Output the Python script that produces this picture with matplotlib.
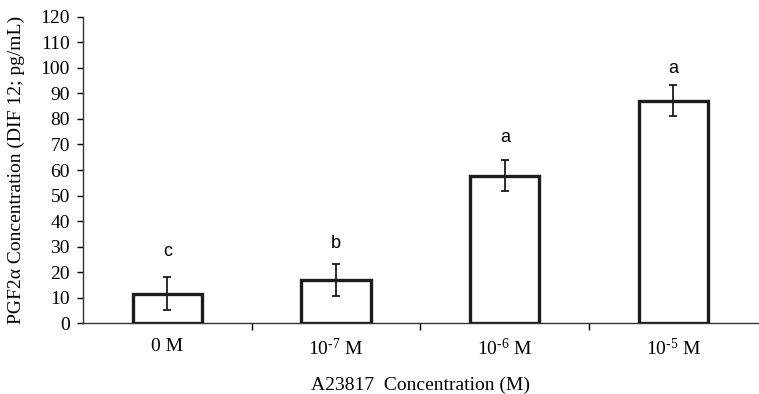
import numpy as np
import matplotlib
matplotlib.use('Agg')
import matplotlib.pyplot as plt

plt.rcParams['font.family'] = ['Liberation Serif', 'DejaVu Serif']
plt.rcParams['mathtext.fontset'] = 'custom'
plt.rcParams['mathtext.rm'] = 'Liberation Serif'
plt.rcParams['mathtext.it'] = 'Liberation Serif:italic'

# data
categories = ['0 M', r'10$^{\text{-7}}$ M', r'10$^{\text{-6}}$ M', r'10$^{\text{-5}}$ M']
means = [11.5, 16.8, 57.7, 87.1]
errs = [6.5, 6.2, 6.1, 6.1]
letters = ['c', 'b', 'a', 'a']
letter_y = [28.0, 31.0, 72.8, 99.6]

fig = plt.figure(figsize=(7.59, 3.94), dpi=100)
ax = fig.add_axes([0.1094, 0.180, 0.889, 0.777])

x = np.arange(len(categories))
ax.bar(x, means, width=0.41, color='white', edgecolor='#1c1c1c', linewidth=2.4, zorder=2)
ax.errorbar(x, means, yerr=errs, fmt='none', ecolor='#1c1c1c', elinewidth=1.3,
            capsize=3, capthick=1.3, zorder=3)

for xi, lab, ly in zip(x, letters, letter_y):
    ax.text(xi, ly, lab, ha='center', va='center', fontsize=13,
            family=['Liberation Sans', 'DejaVu Sans'])

ax.set_xlim(-0.5, 3.5)
ax.set_ylim(0, 120)
ax.set_yticks(np.arange(0, 121, 10))
ax.tick_params(axis='y', labelsize=14, length=4.5, width=1, pad=5)

ax.set_xticks(x)
ax.set_xticklabels(categories, fontsize=14)
ax.tick_params(axis='x', which='major', length=0, pad=11)
ax.set_xticks([0.5, 1.5, 2.5], minor=True)
ax.tick_params(axis='x', which='minor', length=5, width=1)

for side in ['top', 'right']:
    ax.spines[side].set_visible(False)
for side in ['left', 'bottom']:
    ax.spines[side].set_linewidth(1)
    ax.spines[side].set_color('#333333')

ax.set_ylabel('PGF2α Concentration (DIF 12; pg/mL)', fontsize=14, labelpad=11)
ax.set_xlabel('A23817  Concentration (M)', fontsize=14, labelpad=12)

fig.savefig('out.png', dpi=100)
